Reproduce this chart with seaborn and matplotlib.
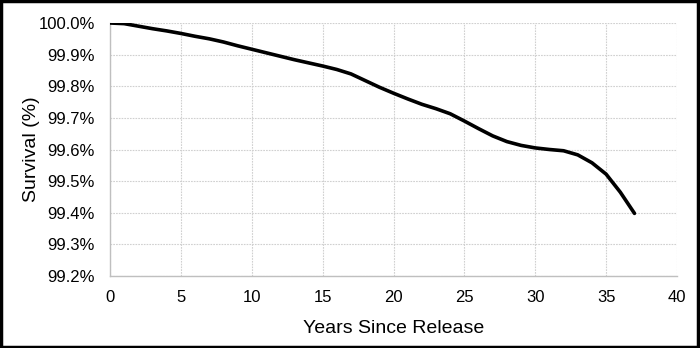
import matplotlib
matplotlib.use("Agg")
import matplotlib.pyplot as plt
import seaborn as sns
import pandas as pd
from matplotlib.patches import Rectangle
from matplotlib.ticker import FuncFormatter

years = [0, 1, 2, 3, 4, 5, 6, 7, 8, 9, 10, 11, 12, 13, 14, 15, 16, 17, 18,
         19, 20, 21, 22, 23, 24, 25, 26, 27, 28, 29, 30, 31, 32, 33, 34, 35,
         36, 37]
survival = [100.000, 99.998, 99.990, 99.982, 99.975, 99.967, 99.958, 99.950,
            99.940, 99.928, 99.917, 99.906, 99.895, 99.884, 99.874, 99.864,
            99.853, 99.839, 99.818, 99.797, 99.778, 99.760, 99.743, 99.729,
            99.713, 99.690, 99.666, 99.643, 99.625, 99.613, 99.605, 99.600,
            99.596, 99.583, 99.558, 99.522, 99.465, 99.398]
x_ticks = [0, 5, 10, 15, 20, 25, 30, 35, 40]
y_ticks = [99.2, 99.3, 99.4, 99.5, 99.6, 99.7, 99.8, 99.9, 100.0]

sns.set_theme(style="white")
plt.rcParams['font.family'] = ['Liberation Sans', 'DejaVu Sans']

df = pd.DataFrame({"Years": years, "Survival": survival})

fig = plt.figure(figsize=(7.0, 3.48), dpi=100)
ax = fig.add_axes([110/700, 1 - 276/348, (677 - 110)/700, (276 - 23)/348])

sns.lineplot(data=df, x="Years", y="Survival", ax=ax, color="black",
             linewidth=2.6, solid_capstyle="round", zorder=3)

ax.set_xlim(0, 40)
ax.set_ylim(99.2, 100.0)
ax.set_xticks(x_ticks)
ax.set_yticks(y_ticks)
ax.yaxis.set_major_formatter(FuncFormatter(lambda v, p: f"{v:.1f}%"))
ax.tick_params(axis="both", length=0, labelsize=12, colors="black")
ax.tick_params(axis="y", pad=11)
ax.tick_params(axis="x", pad=10)

ax.grid(True, color="#d0d0d0", linestyle=(0, (1.5, 1.0)), linewidth=0.8)
for s in ["top", "right"]:
    ax.spines[s].set_visible(False)
for s in ["left", "bottom"]:
    ax.spines[s].set_color("#bfbfbf")
    ax.spines[s].set_linewidth(1.0)

ax.set_xlabel("Years Since Release", fontsize=14, color="black", labelpad=11)
ax.set_ylabel("Survival (%)", fontsize=14, color="black", labelpad=-1)

fig.patches.append(Rectangle((0.002, 0.003), 0.995, 0.993, transform=fig.transFigure,
                             fill=False, edgecolor="black", linewidth=2.5))

fig.savefig("out.png", dpi=100)
